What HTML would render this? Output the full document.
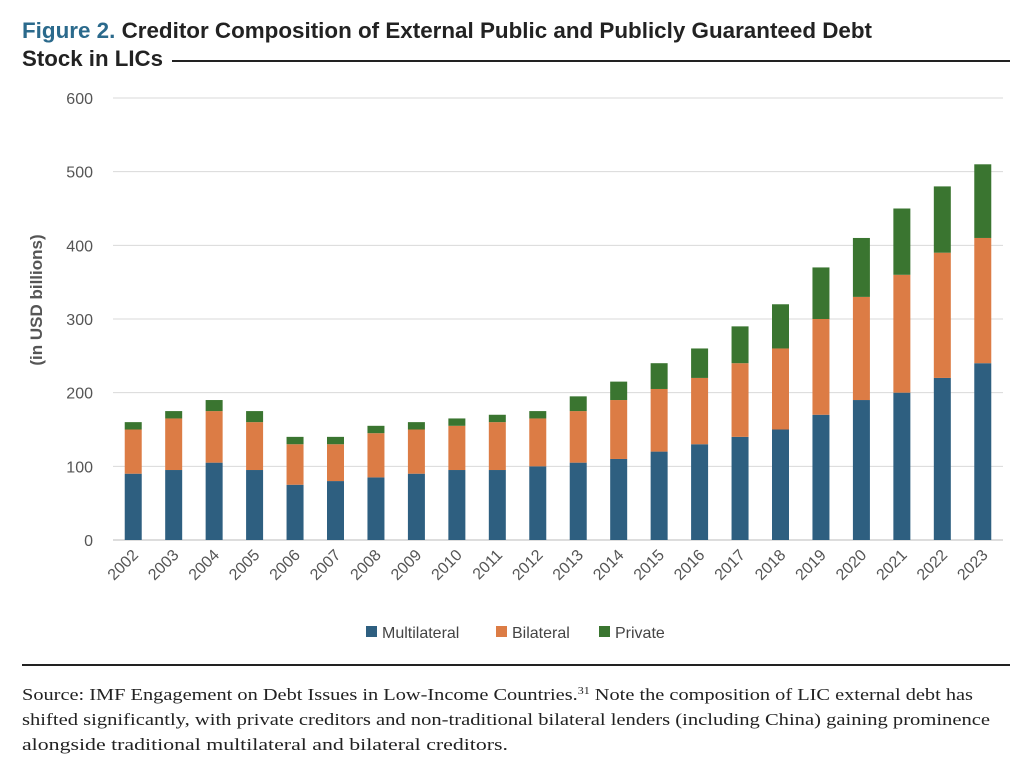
<!DOCTYPE html>
<html><head><meta charset="utf-8"><style>
body{margin:0;background:#fff;width:1032px;height:764px;overflow:hidden;font-family:"Liberation Sans",sans-serif}
</style></head><body>
<svg width="1032" height="764" id="svg">
<text x="22" y="38" font-size="22" font-weight="bold" fill="#222" textLength="850" lengthAdjust="spacingAndGlyphs"><tspan fill="#2b6a8c">Figure 2.</tspan> Creditor Composition of External Public and Publicly Guaranteed Debt</text>
<text x="22" y="66" font-size="22" font-weight="bold" fill="#222" textLength="141" lengthAdjust="spacingAndGlyphs">Stock in LICs</text>
<line x1="172" y1="61" x2="1010" y2="61" stroke="#222" stroke-width="2"/>
<g id="grid"></g><g id="bars"></g><g id="xl"></g>
<text transform="translate(42,300) rotate(-90)" text-anchor="middle" font-size="17" font-weight="bold" fill="#555">(in USD billions)</text>
<g font-size="16" fill="#444">
<rect x="366" y="626" width="11" height="11" fill="#2e5f80"/><text x="382" y="638">Multilateral</text>
<rect x="496" y="626" width="11" height="11" fill="#dc7c45"/><text x="512" y="638">Bilateral</text>
<rect x="599" y="626" width="11" height="11" fill="#3a7530"/><text x="615" y="638">Private</text>
</g>
<line x1="22" y1="665" x2="1010" y2="665" stroke="#222" stroke-width="2"/>
<g font-family="'Liberation Serif',serif" font-size="17" fill="#222">
<text x="22" y="700" textLength="951" lengthAdjust="spacingAndGlyphs">Source: IMF Engagement on Debt Issues in Low-Income Countries.<tspan font-size="10" dy="-6">31</tspan><tspan dy="6"> Note the composition of LIC external debt has</tspan></text>
<text x="22" y="725" textLength="968" lengthAdjust="spacingAndGlyphs">shifted significantly, with private creditors and non-traditional bilateral lenders (including China) gaining prominence</text>
<text x="22" y="750" textLength="486" lengthAdjust="spacingAndGlyphs">alongside traditional multilateral and bilateral creditors.</text>
</g>
</svg>
<script>
const years=["2002","2003","2004","2005","2006","2007","2008","2009","2010","2011","2012","2013","2014","2015","2016","2017","2018","2019","2020","2021","2022","2023"];
const multilateral=[90,95,105,95,75,80,85,90,95,95,100,105,110,120,130,140,150,170,190,200,220,240];
const bilateral=[60,70,70,65,55,50,60,60,60,65,65,70,80,85,90,100,110,130,140,160,170,170];
const privateDebt=[10,10,15,15,10,10,10,10,10,10,10,20,25,35,40,50,60,70,80,90,90,100];
const yTicks=[0,100,200,300,400,500,600];
const NS="http://www.w3.org/2000/svg";
const x0=113,x1=1003,y0=540,yTop=98,ymax=600;
const band=(x1-x0)/years.length,bw=17;
const y=v=>y0-(v/ymax)*(y0-yTop);
const xc=i=>x0+band*(i+0.5);
function mk(t,a,p){const e=document.createElementNS(NS,t);for(const k in a)e.setAttribute(k,a[k]);p.appendChild(e);return e;}
const g=document.getElementById('grid');
yTicks.forEach(t=>{
 const l=mk('line',{x1:x0,x2:x1,y1:y(t),y2:y(t),stroke:t===0?'#bbb':'#d9d9d9','stroke-width':1},g);
 
 
 const tx=mk('text',{x:93,y:y(t)+6,'text-anchor':'end','font-size':16,fill:'#555'},g);
 tx.textContent=t;
 
 
});
const b=document.getElementById('bars'),xl=document.getElementById('xl');
const series=[[multilateral,'#2e5f80','multilateral'],[bilateral,'#dc7c45','bilateral'],[privateDebt,'#3a7530','private']];
years.forEach((yr,i)=>{
 let base=0;
 series.forEach(([arr,c,n])=>{
  const v=arr[i];
  const r=mk('rect',{x:xc(i)-bw/2,y:y(base+v),width:bw,height:y(base)-y(base+v),fill:c},b);
  
  
  base+=v;
 });
 const t=mk('text',{transform:`translate(${xc(i)+6},${y0+16}) rotate(-45)`,'text-anchor':'end','font-size':16,fill:'#555'},xl);
 t.textContent=yr;
 
 
});
</script>
</body></html>
